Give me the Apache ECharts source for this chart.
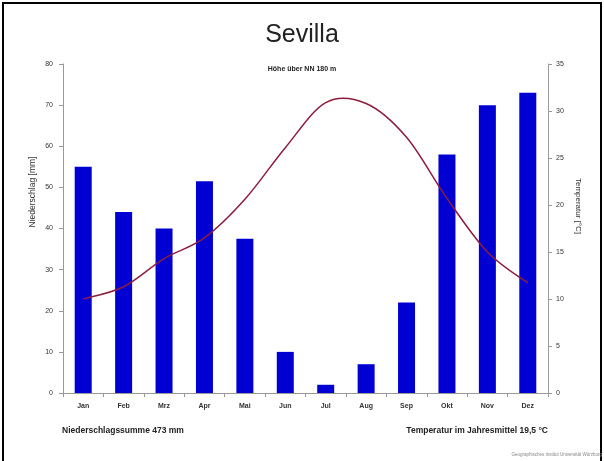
<!DOCTYPE html>
<html>
<head>
<meta charset="utf-8">
<script src="https://cdn.jsdelivr.net/npm/echarts@6/dist/echarts.min.js"></script>
<style>
html,body{margin:0;padding:0;background:#fff;}
#frame{position:absolute;left:2px;top:2px;width:596px;height:470px;border-left:2px solid #000;border-top:2px solid #000;border-right:2px solid #000;}
#c{position:absolute;left:0;top:0;width:604px;height:461px;}
</style>
</head>
<body>
<div id="frame"></div>
<div id="c"></div>
<script>
var months = ['Jan','Feb','Mrz','Apr','Mai','Jun','Jul','Aug','Sep','Okt','Nov','Dez'];
var precipitation = [55, 44, 40, 51.5, 37.5, 10, 2, 7, 22, 58, 70, 73];
var temperature = [10, 11.3, 14.3, 16.5, 20.6, 26.1, 30.9, 30.8, 27.2, 20.7, 15, 11.7];
var titleText = 'Sevilla';
var subtitleText = 'Höhe über NN 180 m';
var yLeftName = 'Niederschlag [mm]';
var yRightName = 'Temperatur [°C]';
var footLeft = 'Niederschlagssumme 473 mm';
var footRight = 'Temperatur im Jahresmittel 19,5 °C';
var credit = 'Geographisches Institut Universität Würzburg';

var chart = echarts.init(document.getElementById('c'));
var ff = 'Liberation Sans, Arial, sans-serif';

function renderTempCurve(params, api) {
  if (params.dataIndex !== 0) return null;
  var p = temperature.map(function (v, i) { return api.coord([i, v]); });
  var d = 'M' + p[0][0] + ' ' + p[0][1];
  for (var i = 0; i < p.length - 1; i++) {
    var p0 = p[i - 1] || p[i], p1 = p[i], p2 = p[i + 1], p3 = p[i + 2] || p[i + 1];
    var c1x = p1[0] + (p2[0] - p0[0]) / 6, c1y = p1[1] + (p2[1] - p0[1]) / 6;
    var c2x = p2[0] - (p3[0] - p1[0]) / 6, c2y = p2[1] - (p3[1] - p1[1]) / 6;
    d += ' C' + c1x + ' ' + c1y + ' ' + c2x + ' ' + c2y + ' ' + p2[0] + ' ' + p2[1];
  }
  return {type: 'path', shape: {pathData: d}, style: {stroke: '#8e1c3c', fill: null, lineWidth: 1.5}};
}

chart.setOption({
  backgroundColor: 'transparent',
  animation: false,
  title: [
    {text: titleText, left: 'center', top: 18, textStyle: {fontFamily: ff, fontSize: 25, fontWeight: 'normal', color: '#222'}},
    {text: subtitleText, left: 'center', top: 61, textStyle: {fontFamily: ff, fontSize: 7, fontWeight: 'bold', color: '#222'}}
  ],
  grid: {left: 63, right: 56, top: 64, bottom: 68},
  xAxis: {
    type: 'category', data: months, boundaryGap: true,
    axisLine: {lineStyle: {color: '#999'}},
    axisTick: {show: true, length: 4, lineStyle: {color: '#999'}},
    axisLabel: {fontFamily: ff, fontSize: 7, fontWeight: 'bold', color: '#333', margin: 10}
  },
  yAxis: [
    {
      type: 'value', min: 0, max: 80, interval: 10, position: 'left',
      axisLine: {show: true, lineStyle: {color: '#999'}},
      axisTick: {show: true, length: 4, lineStyle: {color: '#999'}},
      splitLine: {show: false},
      axisLabel: {fontFamily: ff, fontSize: 7, color: '#333', margin: 10}
    },
    {
      type: 'value', min: 0, max: 35, interval: 5, position: 'right',
      axisLine: {show: true, lineStyle: {color: '#999'}},
      axisTick: {show: true, length: 4, lineStyle: {color: '#999'}},
      splitLine: {show: false},
      axisLabel: {fontFamily: ff, fontSize: 7, color: '#333', margin: 8}
    }
  ],
  series: [
    {
      type: 'bar', data: precipitation, yAxisIndex: 0, barWidth: 17,
      itemStyle: {color: '#0000d2'}
    },
    {
      type: 'custom', yAxisIndex: 1, coordinateSystem: 'cartesian2d',
      data: temperature.map(function (v, i) { return [i, v]; }),
      renderItem: renderTempCurve, z: 5
    }
  ],
  graphic: [
    {type: 'text', x: 33, y: 192, rotation: Math.PI / 2,
     style: {text: yLeftName, font: '8.5px ' + ff, fill: '#333', align: 'center', verticalAlign: 'middle'}},
    {type: 'text', x: 578, y: 206, rotation: -Math.PI / 2,
     style: {text: yRightName, font: '8px ' + ff, fill: '#333', align: 'center', verticalAlign: 'middle'}},
    {type: 'text', x: 62, y: 431,
     style: {text: footLeft, font: 'bold 8.5px ' + ff, fill: '#222', align: 'left', verticalAlign: 'middle'}},
    {type: 'text', x: 548, y: 431,
     style: {text: footRight, font: 'bold 8.5px ' + ff, fill: '#222', align: 'right', verticalAlign: 'middle'}},
    {type: 'text', x: 602, y: 455,
     style: {text: credit, font: '4.5px ' + ff, fill: '#888', align: 'right', verticalAlign: 'middle'}}
  ]
});
</script>
</body>
</html>
